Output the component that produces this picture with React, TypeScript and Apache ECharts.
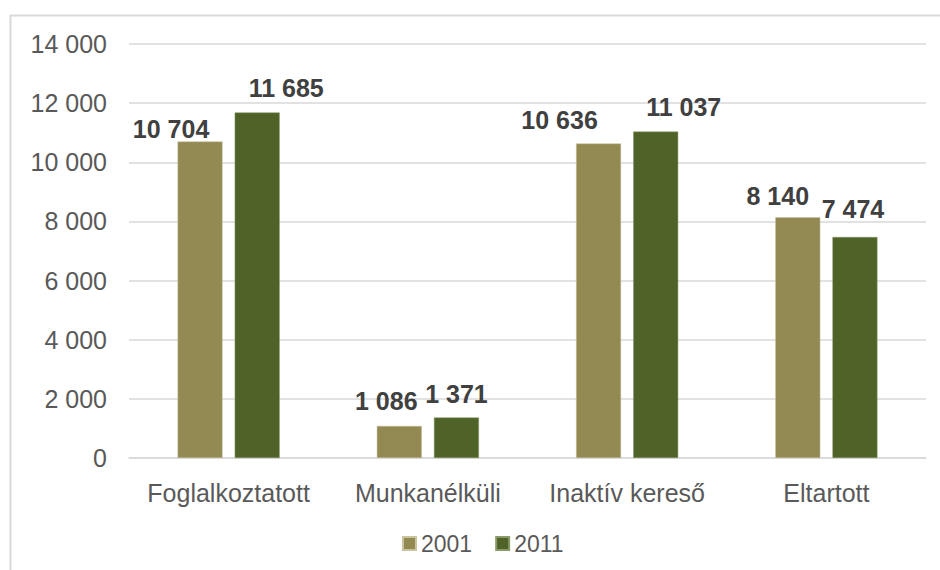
import React, { useEffect, useRef } from "react";
import * as echarts from "echarts";

const categories = ["Foglalkoztatott", "Munkanélküli", "Inaktív kereső", "Eltartott"];
const series2001 = [10704, 1086, 10636, 8140];
const series2011 = [11685, 1371, 11037, 7474];
const seriesNames = ["2001", "2011"];
const colors = ["#938953", "#4f6228"];

// manual label nudges (layout only), in px [dx, dy]
const labelNudge2001 = [[-29, 0], [-13, -12], [-39, -11], [-20, -9]];
const labelNudge2011 = [[29, -12], [0, -11], [28, -12], [-2, -15]];

const fmt = (v: number) => String(Math.round(v)).replace(/\B(?=(\d{3})+(?!\d))/g, " ");

export default function App() {
  const ref = useRef<HTMLDivElement>(null);
  useEffect(() => {
    const chart = echarts.init(ref.current!, null, { renderer: "svg" });
    const font = "'Liberation Sans', Arial, sans-serif";
    const label = {
      show: true,
      position: "top",
      distance: 0,
      fontFamily: font,
      fontSize: 25,
      fontWeight: "bold",
      color: "#404040",
      formatter: (p: any) => fmt(p.value),
    };
    const withNudge = (vals: number[], nudges: number[][]) =>
      vals.map((v, i) => ({ value: v, label: { offset: nudges[i] } }));
    chart.setOption({
      animation: false,
      textStyle: { fontFamily: font },
      graphic: [
        {
          type: "rect",
          left: 8,
          top: 13,
          shape: { width: 1000, height: 1000 },
          style: { fill: "none", stroke: "#d9d9d9", lineWidth: 2 },
          silent: true,
        },
      ],
      grid: { left: 129, right: 14, top: 44, bottom: 112, containLabel: false },
      legend: {
        top: 527,
        left: 397,
        itemWidth: 13,
        itemHeight: 13,
        itemGap: 23,
        icon: "rect",
        textStyle: { fontSize: 23, color: "#595959", fontFamily: font },
        data: seriesNames,
      },
      xAxis: {
        type: "category",
        data: categories,
        axisLine: { lineStyle: { color: "#d9d9d9", width: 1.5 } },
        axisTick: { show: false },
        axisLabel: { fontSize: 25, color: "#595959", margin: 22, fontFamily: font, interval: 0 },
      },
      yAxis: {
        type: "value",
        min: 0,
        max: 14000,
        interval: 2000,
        axisLabel: { fontSize: 25, color: "#595959", margin: 22, formatter: fmt, fontFamily: font },
        splitLine: { lineStyle: { color: "#d9d9d9", width: 1.5 } },
        axisLine: { show: false },
        axisTick: { show: false },
      },
      series: [
        {
          name: seriesNames[0],
          type: "bar",
          data: withNudge(series2001, labelNudge2001),
          barWidth: 45,
          barGap: "27%",
          itemStyle: { color: colors[0], borderColor: "#c9c3a0", borderWidth: 0.5 },
          label,
        },
        {
          name: seriesNames[1],
          type: "bar",
          data: withNudge(series2011, labelNudge2011),
          barWidth: 45,
          barGap: "27%",
          itemStyle: { color: colors[1], borderColor: "#8a9a6a", borderWidth: 0.5 },
          label,
        },
      ],
    });
    return () => chart.dispose();
  }, []);
  return <div ref={ref} style={{ width: 940, height: 570, position: "absolute", left: 0, top: 0, background: "#fff" }} />;
}
